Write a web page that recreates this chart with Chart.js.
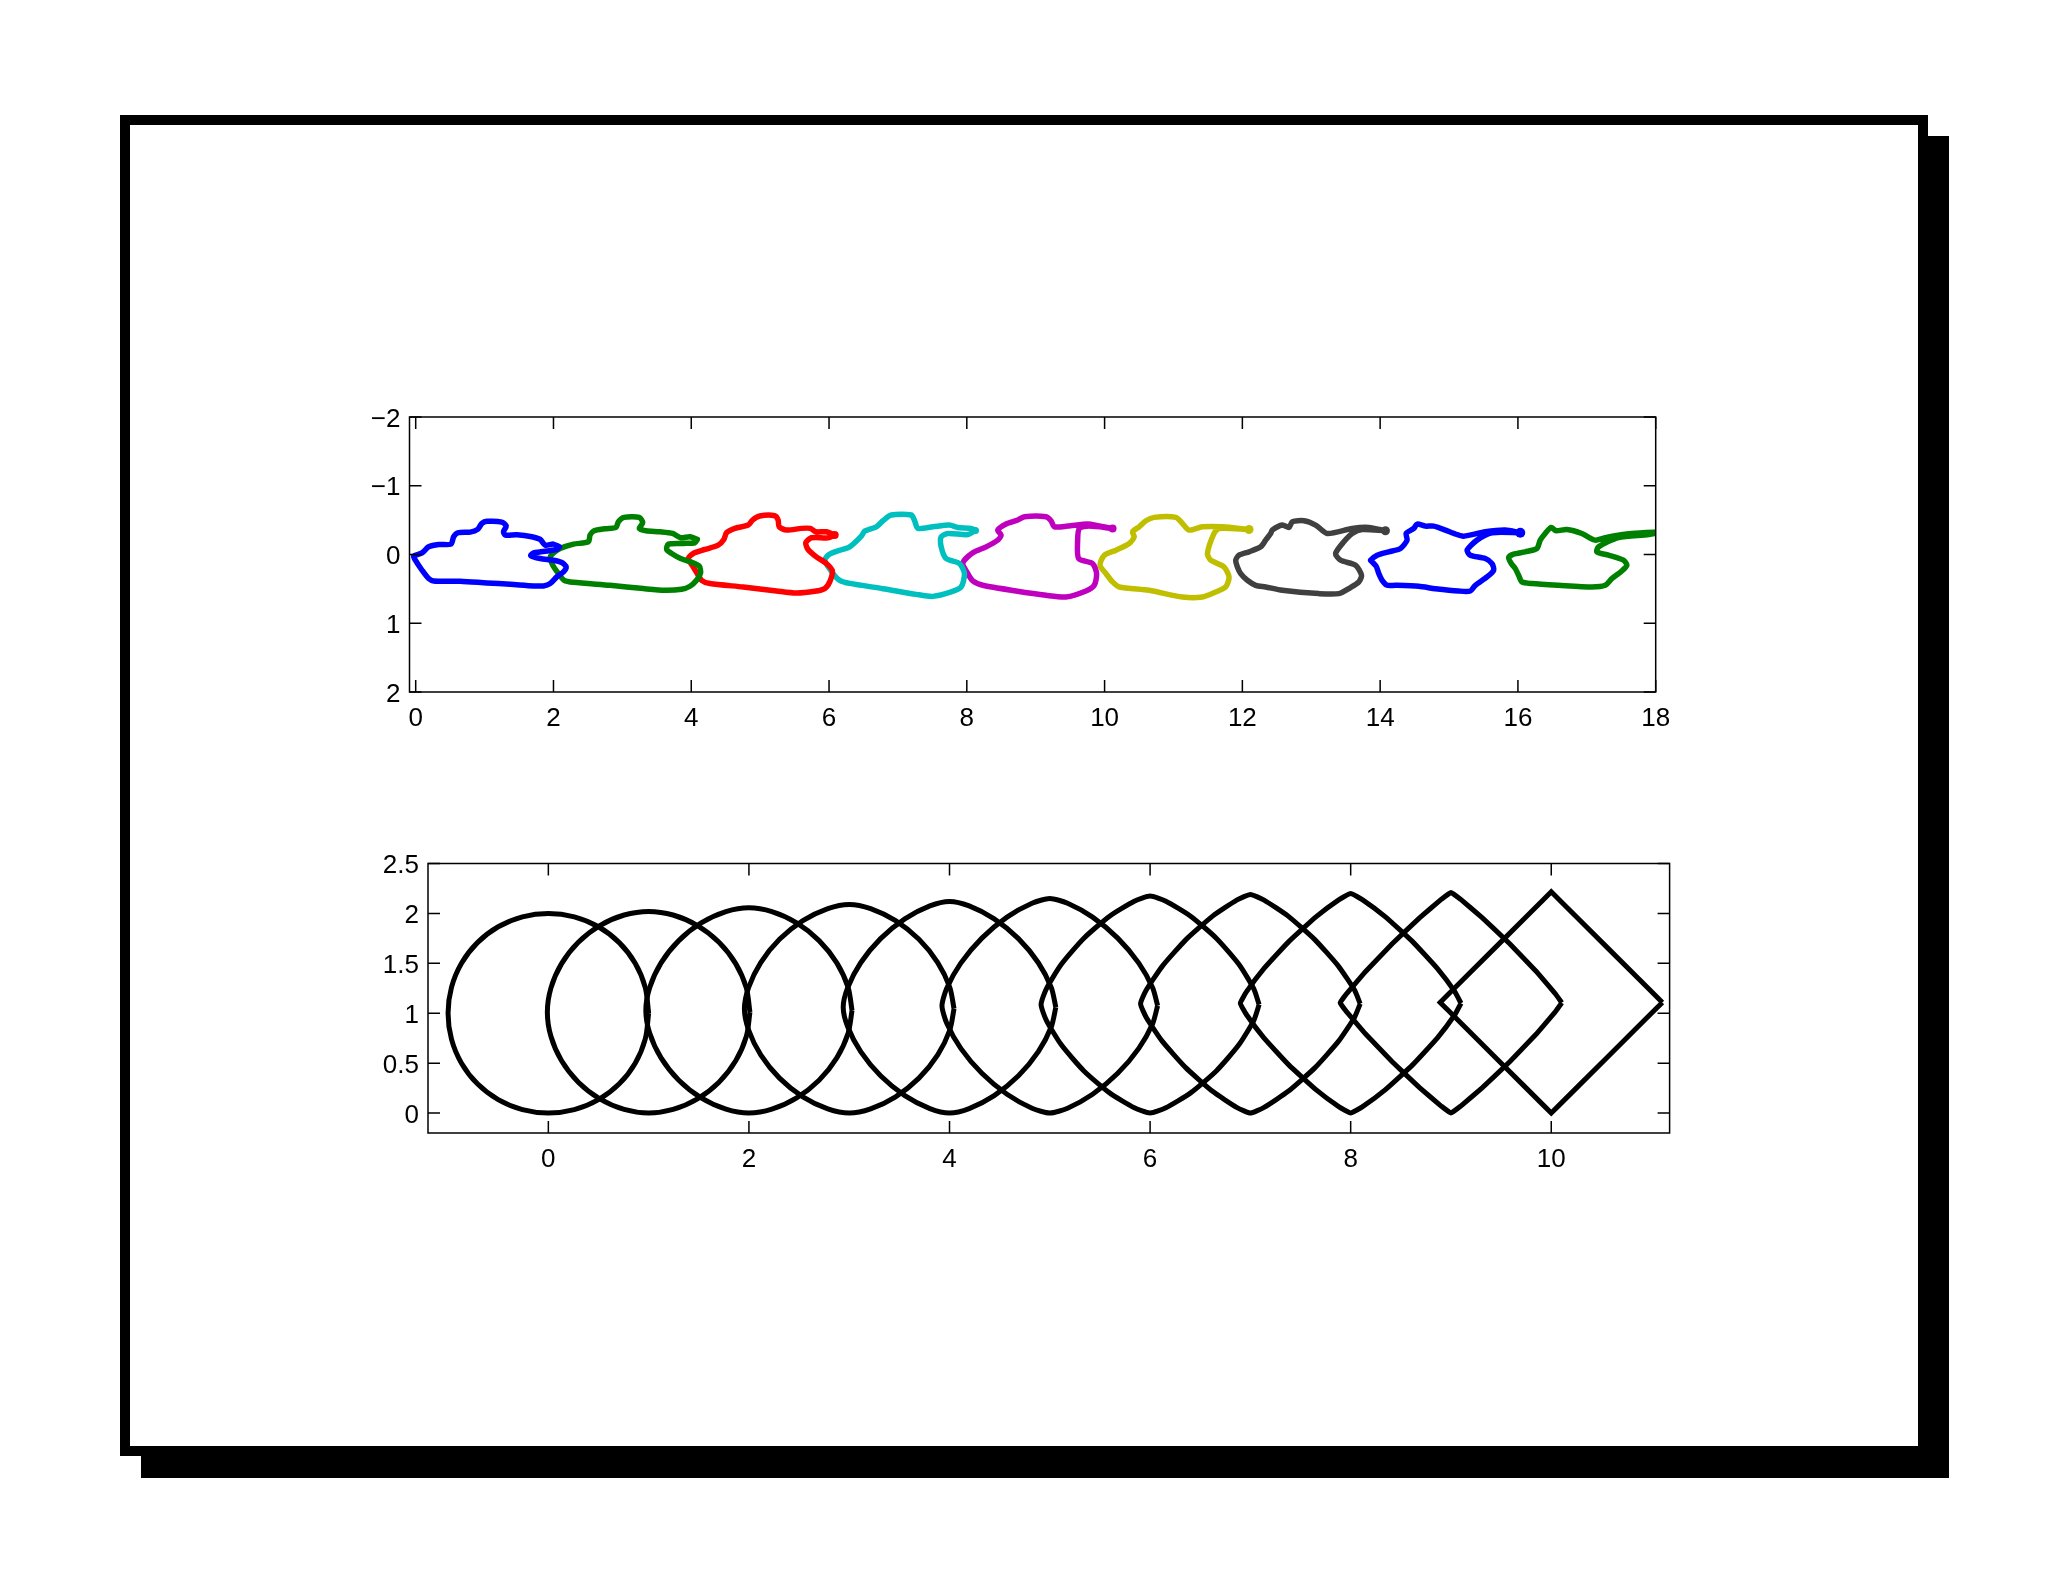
<!DOCTYPE html>
<html>
<head>
<meta charset="utf-8">
<title>Outlines and superellipses</title>
<script src="https://cdn.jsdelivr.net/npm/chart.js@4.4.1/dist/chart.umd.min.js"></script>
<style>
  html, body { margin: 0; padding: 0; background: #fff; }
  body { width: 2048px; height: 1582px; position: relative; overflow: hidden; }
  #shadow { position: absolute; left: 141px; top: 136px; width: 1808px; height: 1342px; background: #000; }
  #frame { position: absolute; left: 120px; top: 115px; width: 1808px; height: 1341px; background: #fff;
           border: 10px solid #000; box-sizing: border-box; }
  canvas { position: absolute; }
  #topChart { left: 250px; top: 380px; }
  #bottomChart { left: 250px; top: 830px; }
</style>
</head>
<body>
<div id="shadow"></div>
<div id="frame"></div>
<canvas id="topChart" width="1450" height="380"></canvas>
<canvas id="bottomChart" width="1470" height="380"></canvas>

<script>
// ---- top panel: nine traced outlines (x, y) ----
const outlineBlue = [[2.087,-0.112],[2.048,-0.073],[1.710,-0.024],[1.671,0.015],[1.807,0.058],[2.0,0.083],[2.121,0.117],[2.184,0.180],[2.145,0.253],[2.048,0.326],[1.952,0.423],[1.855,0.457],[1.710,0.457],[1.372,0.433],[1.034,0.414],[0.647,0.389],[0.261,0.384],[0.188,0.350],[0.092,0.229],[-0.005,0.083],[-0.029,0.024],[0.092,-0.024],[0.188,-0.112],[0.333,-0.146],[0.512,-0.151],[0.551,-0.258],[0.609,-0.316],[0.792,-0.326],[0.899,-0.365],[0.961,-0.453],[1.034,-0.482],[1.251,-0.472],[1.314,-0.414],[1.275,-0.331],[1.300,-0.282],[1.469,-0.287],[1.686,-0.258],[1.807,-0.219],[1.879,-0.136],[2.0,-0.151],[2.087,-0.112]];
const outlineGreen = [[4.087,-0.219],[4.053,-0.170],[3.884,-0.161],[3.667,-0.151],[3.643,-0.073],[3.715,-0.015],[3.845,0.058],[3.990,0.107],[4.116,0.170],[4.135,0.268],[4.077,0.375],[3.981,0.462],[3.860,0.506],[3.618,0.521],[3.304,0.496],[2.821,0.448],[2.290,0.404],[2.155,0.375],[2.072,0.277],[1.990,0.156],[1.952,0.044],[2.0,-0.024],[2.097,-0.088],[2.290,-0.151],[2.507,-0.185],[2.531,-0.282],[2.589,-0.345],[2.749,-0.375],[2.908,-0.394],[2.942,-0.477],[3.024,-0.540],[3.246,-0.540],[3.295,-0.462],[3.246,-0.380],[3.343,-0.345],[3.546,-0.331],[3.729,-0.307],[3.845,-0.243],[3.981,-0.258],[4.087,-0.219]];
const outlineRed = [[6.082,-0.282],[5.986,-0.243],[5.744,-0.243],[5.662,-0.170],[5.696,-0.073],[5.816,0.034],[5.961,0.131],[6.048,0.238],[6.010,0.399],[5.937,0.496],[5.792,0.535],[5.527,0.560],[5.237,0.530],[4.754,0.472],[4.271,0.423],[4.150,0.375],[4.087,0.277],[4.019,0.165],[3.957,0.058],[4.029,-0.015],[4.198,-0.073],[4.391,-0.136],[4.473,-0.219],[4.512,-0.316],[4.633,-0.380],[4.826,-0.428],[4.889,-0.501],[4.995,-0.560],[5.213,-0.564],[5.261,-0.501],[5.275,-0.404],[5.382,-0.355],[5.599,-0.380],[5.729,-0.380],[5.807,-0.331],[5.961,-0.331],[6.082,-0.282]];
const outlineCyan = [[8.126,-0.350],[8.015,-0.290],[7.725,-0.306],[7.628,-0.257],[7.628,-0.111],[7.700,0.059],[7.894,0.132],[7.966,0.278],[7.918,0.472],[7.773,0.545],[7.508,0.609],[7.266,0.580],[6.783,0.497],[6.300,0.420],[6.155,0.375],[6.058,0.277],[5.937,0.083],[6.0,0.0],[6.15,-0.06],[6.30,-0.111],[6.469,-0.267],[6.517,-0.340],[6.686,-0.403],[6.783,-0.491],[6.904,-0.574],[7.194,-0.574],[7.242,-0.491],[7.290,-0.379],[7.508,-0.403],[7.749,-0.428],[7.870,-0.394],[8.063,-0.379],[8.126,-0.350]];
const outlineMagenta = [[10.116,-0.379],[9.778,-0.413],[9.633,-0.379],[9.609,-0.209],[9.624,0.059],[9.826,0.132],[9.884,0.278],[9.850,0.448],[9.729,0.531],[9.440,0.618],[9.150,0.594],[8.715,0.531],[8.232,0.448],[8.087,0.385],[8.000,0.253],[7.942,0.122],[8.087,-0.024],[8.280,-0.111],[8.449,-0.209],[8.498,-0.282],[8.449,-0.355],[8.570,-0.443],[8.739,-0.501],[8.836,-0.550],[9.150,-0.550],[9.222,-0.491],[9.271,-0.403],[9.464,-0.413],[9.754,-0.443],[9.9,-0.42],[10.116,-0.379]];
const outlineYellow = [[12.097,-0.364],[11.662,-0.379],[11.589,-0.306],[11.493,-0.014],[11.541,0.083],[11.734,0.181],[11.807,0.327],[11.758,0.472],[11.613,0.545],[11.420,0.618],[11.130,0.618],[10.647,0.521],[10.213,0.472],[10.116,0.399],[10.020,0.278],[9.933,0.156],[9.996,0.010],[10.165,-0.063],[10.358,-0.160],[10.430,-0.257],[10.406,-0.330],[10.502,-0.403],[10.599,-0.491],[10.720,-0.540],[11.034,-0.540],[11.130,-0.452],[11.227,-0.355],[11.420,-0.403],[11.710,-0.403],[12.097,-0.364]];
const outlineGray = [[14.077,-0.345],[13.739,-0.364],[13.594,-0.306],[13.473,-0.185],[13.353,-0.014],[13.425,0.083],[13.643,0.156],[13.730,0.302],[13.691,0.399],[13.570,0.482],[13.401,0.569],[13.111,0.569],[12.580,0.521],[12.338,0.472],[12.193,0.448],[12.072,0.375],[11.976,0.278],[11.928,0.181],[11.904,0.083],[11.952,0.010],[12.097,-0.039],[12.266,-0.111],[12.338,-0.209],[12.411,-0.306],[12.435,-0.355],[12.580,-0.428],[12.677,-0.394],[12.725,-0.476],[12.894,-0.491],[13.063,-0.428],[13.232,-0.306],[13.594,-0.379],[13.836,-0.394],[14.077,-0.345]];
const outlineBlue2 = [[16.034,-0.316],[15.624,-0.316],[15.406,-0.209],[15.261,-0.063],[15.309,0.010],[15.527,0.059],[15.624,0.132],[15.648,0.229],[15.551,0.327],[15.382,0.448],[15.309,0.531],[15.140,0.531],[14.802,0.497],[14.561,0.463],[14.223,0.448],[14.102,0.448],[14.029,0.375],[13.981,0.278],[13.942,0.171],[13.884,0.107],[13.861,0.083],[13.957,0.010],[14.126,-0.039],[14.295,-0.087],[14.391,-0.209],[14.377,-0.306],[14.488,-0.379],[14.537,-0.442],[14.657,-0.413],[14.778,-0.413],[14.947,-0.355],[15.068,-0.306],[15.213,-0.267],[15.527,-0.330],[15.817,-0.355],[16.034,-0.316]];
const outlineGreen2 = [[18.1,-0.33],[17.9,-0.29],[17.460,-0.247],[17.170,-0.111],[17.146,-0.039],[17.315,0.010],[17.532,0.083],[17.581,0.156],[17.508,0.239],[17.363,0.351],[17.267,0.448],[17.074,0.472],[16.591,0.448],[16.205,0.423],[16.058,0.399],[16.010,0.302],[15.962,0.205],[15.904,0.132],[15.865,0.044],[15.937,-0.005],[16.106,-0.039],[16.275,-0.087],[16.324,-0.209],[16.396,-0.306],[16.483,-0.394],[16.551,-0.345],[16.710,-0.364],[16.928,-0.306],[17.121,-0.209],[17.315,-0.257],[17.653,-0.306],[18.1,-0.33]];

const topXTicks = [0, 2, 4, 6, 8, 10, 12, 14, 16, 18];
const topYTicks = [-2, -1, 0, 1, 2];

// ---- bottom panel: shapes going from circle to diamond ----
const loopCenterX = [0, 1, 2, 3, 4, 5, 6, 7, 8, 9, 10];
const loopRadius  = [1.0, 1.01, 1.028, 1.045, 1.06, 1.075, 1.087, 1.095, 1.1, 1.105, 1.108];
// one quarter of each outline, read at 15 degree steps (right vertex -> top vertex)
const loopQuarter = [
  [1, 0.9659, 0.8660, 0.7071, 0.5000, 0.2588, 0],
  [1, 0.9642, 0.8595, 0.6943, 0.4821, 0.2411, 0],
  [1, 0.9622, 0.8523, 0.6804, 0.4629, 0.2227, 0],
  [1, 0.9600, 0.8443, 0.6652, 0.4424, 0.2039, 0],
  [1, 0.9576, 0.8354, 0.6484, 0.4204, 0.1846, 0],
  [1, 0.9548, 0.8255, 0.6300, 0.3969, 0.1650, 0],
  [1, 0.9517, 0.8143, 0.6095, 0.3715, 0.1450, 0],
  [1, 0.9481, 0.8015, 0.5867, 0.3443, 0.1250, 0],
  [1, 0.9439, 0.7868, 0.5612, 0.3150, 0.1051, 0],
  [1, 0.9389, 0.7699, 0.5325, 0.2836, 0.0857, 0],
  [1, 0.9330, 0.7500, 0.5000, 0.2500, 0.0670, 0]
];

const bottomXTicks = [0, 2, 4, 6, 8, 10];
const bottomYTicks = [0, 0.5, 1, 1.5, 2, 2.5];

const FONT = { family: '"Liberation Sans", Arial, Helvetica, sans-serif', size: 26 };

// inside tick marks and the axes box
const boxTicks = {
  id: 'boxTicks',
  afterDatasetsDraw(chart) {
    const { ctx, chartArea: a, scales: { x, y } } = chart;
    const len = 12;
    ctx.save();
    ctx.strokeStyle = '#000';
    ctx.lineWidth = 1.5;
    ctx.beginPath();
    x.ticks.forEach(t => {
      const px = x.getPixelForValue(t.value);
      ctx.moveTo(px, a.bottom); ctx.lineTo(px, a.bottom - len);
      ctx.moveTo(px, a.top); ctx.lineTo(px, a.top + len);
    });
    y.ticks.forEach(t => {
      const py = y.getPixelForValue(t.value);
      ctx.moveTo(a.left, py); ctx.lineTo(a.left + len, py);
      ctx.moveTo(a.right, py); ctx.lineTo(a.right - len, py);
    });
    ctx.stroke();
    ctx.strokeRect(a.left, a.top, a.right - a.left, a.bottom - a.top);
    ctx.restore();
  }
};

function toPoints(pairs) {
  return pairs.map(p => ({ x: p[0], y: p[1] }));
}

function axis(min, max, tickValues, extra, tickExtra) {
  return Object.assign({
    type: 'linear',
    min: min,
    max: max,
    grid: { display: false, drawTicks: false },
    border: { display: false },
    afterBuildTicks: s => { s.ticks = tickValues.map(v => ({ value: v })); },
    ticks: Object.assign({
      color: '#000',
      font: FONT,
      padding: 9,
      autoSkip: false,
      maxRotation: 0,
      callback: v => (v < 0 ? '\u2212' + Math.abs(v) : String(v))
    }, tickExtra || {})
  }, extra || {});
}

// top chart
const outlines = [outlineBlue, outlineGreen, outlineRed, outlineCyan, outlineMagenta,
                  outlineYellow, outlineGray, outlineBlue2, outlineGreen2];
const outlineColors = ['#0000ff', '#008000', '#ff0000', '#00bfbf', '#bf00bf',
                       '#bfbf00', '#404040', '#0000ff', '#008000'];
const tipDot = [0, 2.5, 4, 3.5, 4, 4.5, 4.5, 5, 3.5];

new Chart(document.getElementById('topChart'), {
  type: 'scatter',
  data: {
    datasets: outlines.map((o, i) => ({
      data: toPoints(o),
      showLine: true,
      borderColor: outlineColors[i],
      backgroundColor: outlineColors[i],
      borderWidth: 5.5,
      borderJoinStyle: 'round',
      borderCapStyle: 'round',
      pointRadius: ctx => (ctx.dataIndex === 0 ? tipDot[i] : 0),
      pointBorderWidth: 0,
      tension: 0.25,
      clip: 0
    }))
  },
  options: {
    responsive: false,
    devicePixelRatio: 1,
    animation: false,
    events: [],
    layout: { padding: { left: 0, top: 37, right: 44.3, bottom: 0 } },
    plugins: { legend: { display: false }, tooltip: { enabled: false } },
    scales: {
      x: axis(-0.09, 18, topXTicks, { afterFit: s => { s.height = 68; } }, { padding: 11.5 }),
      y: axis(-2, 2, topYTicks, { reverse: true, afterFit: s => { s.width = 159.5; } }, { labelOffset: 2.5 })
    }
  },
  plugins: [boxTicks]
});

// bottom chart: mirror each quarter round the shape's centre
function loopPoints(k) {
  const q = loopQuarter[k];
  const r = loopRadius[k];
  const cx = loopCenterX[k];
  const cy = r;
  const pts = [];
  for (let j = 0; j <= 6; j++) pts.push([q[j], q[6 - j]]);
  for (let m = 1; m <= 6; m++) pts.push([-q[6 - m], q[m]]);
  for (let m = 1; m <= 6; m++) pts.push([-q[m], -q[6 - m]]);
  for (let m = 1; m <= 6; m++) pts.push([q[6 - m], -q[m]]);
  return pts.map(p => ({ x: cx + r * p[0], y: cy + r * p[1] }));
}

const loopTension = [0.33, 0.32, 0.3, 0.28, 0.26, 0.23, 0.2, 0.16, 0.12, 0.06, 0];

new Chart(document.getElementById('bottomChart'), {
  type: 'scatter',
  data: {
    datasets: loopCenterX.map((c, k) => ({
      data: loopPoints(k),
      showLine: true,
      borderColor: '#000',
      borderWidth: 5,
      borderJoinStyle: 'miter',
      pointRadius: 0,
      tension: loopTension[k],
      clip: 0
    }))
  },
  options: {
    responsive: false,
    devicePixelRatio: 1,
    animation: false,
    events: [],
    layout: { padding: { left: 0, top: 33.5, right: 50.4, bottom: 0 } },
    plugins: { legend: { display: false }, tooltip: { enabled: false } },
    scales: {
      x: axis(-1.2, 11.18, bottomXTicks, { afterFit: s => { s.height = 77; } }, { padding: 11.5 }),
      y: axis(-0.2, 2.5, bottomYTicks, { afterFit: s => { s.width = 178; } }, { labelOffset: 2.5 })
    }
  },
  plugins: [boxTicks]
});
</script>
</body>
</html>
